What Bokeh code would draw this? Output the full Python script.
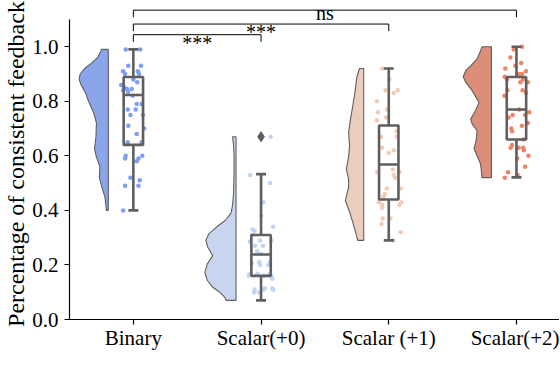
from bokeh.plotting import figure
from bokeh.models import Range1d, FixedTicker, ColumnDataSource, PrintfTickFormatter
from bokeh.embed import file_html
from bokeh.resources import INLINE
from bokeh.core.properties import value

# ---------------- data ----------------
categories = ["Binary", "Scalar(+0)", "Scalar (+1)", "Scalar(+2)"]
y_axis_title = "Percentage of consistent feedback"
y_ticks = [0.0, 0.2, 0.4, 0.6, 0.8, 1.0]

point_colors = ["#7b9ff9", "#c0d4f5", "#f2cbb7", "#ee8468"]
violin_colors = ["#8aa5e9", "#c7d6ee", "#ebcdbe", "#dd8e79"]

# jittered observations (value, horizontal jitter in category units)
binary_vals = [0.99, 0.99, 0.93, 0.93, 0.91, 0.90, 0.91, 0.90, 0.88, 0.86, 0.845, 0.84, 0.835, 0.845,
               0.82, 0.79, 0.79, 0.77, 0.77, 0.75, 0.75, 0.71, 0.70, 0.68, 0.65, 0.65, 0.60, 0.59,
               0.60, 0.58, 0.59, 0.52, 0.51, 0.49, 0.49, 0.40, 0.87, 0.85]
binary_jit = [-0.06, 0.054, -0.04, 0.06, -0.08, -0.065, 0.036, 0.044, 0.0, -0.095, -0.05, -0.08, -0.04,
              -0.013, -0.005, 0.026, 0.065, -0.044, 0.018, -0.023, 0.075, -0.04, 0.085, 0.026, -0.044,
              0.065, -0.06, -0.065, 0.07, 0.026, 0.04, -0.023, 0.05, -0.065, 0.04, -0.08, 0.03, -0.07]

s0_vals = [0.67, 0.53, 0.50, 0.43, 0.38, 0.34, 0.33, 0.325, 0.31, 0.285, 0.29, 0.29, 0.27, 0.27, 0.25,
           0.24, 0.205, 0.21, 0.20, 0.21, 0.20, 0.165, 0.168, 0.16, 0.16, 0.11, 0.115, 0.115, 0.10,
           0.099, 0.16, 0.149, 0.165, 0.109, 0.109]
s0_jit = [0.075, -0.085, 0.07, 0.018, 0.0, 0.095, -0.067, -0.05, -0.067, -0.088, -0.008, 0.08, -0.047,
          0.015, -0.03, 0.0, -0.072, -0.015, -0.008, 0.07, 0.057, -0.093, -0.028, 0.08, 0.023, -0.05,
          0.03, 0.088, -0.054, -0.015, -0.095, 0.088, 0.062, 0.018, 0.095]

s1_vals = [0.92, 0.88, 0.84, 0.83, 0.84, 0.80, 0.76, 0.77, 0.73, 0.74, 0.69, 0.67, 0.67, 0.63, 0.62,
           0.61, 0.55, 0.54, 0.54, 0.52, 0.53, 0.48, 0.48, 0.46, 0.45, 0.43, 0.42, 0.41, 0.43, 0.42,
           0.37, 0.37, 0.35, 0.32, 0.29]
s1_jit = [-0.052, 0.005, -0.026, 0.039, 0.07, -0.093, -0.085, -0.013, -0.093, -0.02, 0.062, -0.06,
          0.062, -0.052, 0.039, 0.0, 0.031, -0.09, 0.083, 0.05, 0.039, -0.015, 0.093, -0.031, -0.041,
          -0.078, -0.052, -0.052, 0.098, 0.083, -0.047, 0.013, -0.057, 0.093, 0.036]

s2_vals = [1.0, 0.99, 0.96, 0.94, 0.92, 0.93, 0.91, 0.90, 0.90, 0.89, 0.88, 0.88, 0.87, 0.87, 0.84,
           0.83, 0.84, 0.82, 0.77, 0.76, 0.75, 0.75, 0.74, 0.72, 0.71, 0.70, 0.69, 0.66, 0.64, 0.63,
           0.63, 0.63, 0.62, 0.60, 0.59, 0.56, 0.54, 0.53, 0.52]
s2_jit = [0.043, -0.022, -0.048, 0.037, -0.087, -0.009, 0.074, 0.017, 0.043, -0.092, -0.074, 0.05,
          0.03, 0.089, 0.048, 0.074, -0.071, -0.094, 0.022, 0.1, 0.068, -0.03, -0.061, 0.089, 0.043,
          -0.04, -0.035, 0.056, -0.035, -0.045, 0.053, 0.017, 0.058, 0.094, 0.006, 0.068, -0.066,
          0.009, -0.092]

# box-plot statistics
box_lo = [0.40, 0.07, 0.29, 0.521]
box_q1 = [0.64, 0.16, 0.44, 0.66]
box_med = [0.823, 0.238, 0.568, 0.77]
box_q3 = [0.889, 0.31, 0.711, 0.889]
box_hi = [0.99, 0.533, 0.92, 1.0]
outlier_cat = [1]
outlier_val = [0.67]

# half-violin density profiles (level, density width)
vio_binary_y = [0.99, 0.98, 0.96, 0.94, 0.92, 0.90, 0.88, 0.86, 0.83, 0.80, 0.76, 0.72, 0.67, 0.625,
                0.595, 0.56, 0.52, 0.485, 0.45, 0.42, 0.40]
vio_binary_d = [7, 8, 11, 17, 24, 28.5, 29.5, 27.5, 23, 20, 15, 12, 12.5, 14, 12, 8.5, 9, 6.5, 3.5, 2.5, 2]
vio_s0_y = [0.67, 0.64, 0.60, 0.54, 0.46, 0.42, 0.39, 0.363, 0.338, 0.314, 0.29, 0.265, 0.234, 0.204,
            0.173, 0.143, 0.118, 0.10, 0.082, 0.07]
vio_s0_d = [3.5, 2.5, 2, 2, 2.5, 3.5, 5, 11, 20, 27.5, 30.5, 28.5, 23.5, 29, 31.5, 29, 23.5, 16.5, 11.5, 10]
vio_s1_y = [0.92, 0.888, 0.839, 0.784, 0.729, 0.686, 0.637, 0.595, 0.552, 0.515, 0.485, 0.436, 0.387,
            0.338, 0.29]
vio_s1_d = [4.3, 7, 8.6, 11, 13.6, 15.3, 14.3, 15.3, 17.6, 15.3, 15.3, 18.6, 13.6, 9.6, 6]
vio_s2_y = [1.0, 0.985, 0.955, 0.93, 0.912, 0.89, 0.87, 0.839, 0.796, 0.766, 0.735, 0.717, 0.692, 0.656,
            0.625, 0.60, 0.57, 0.54, 0.52]
vio_s2_d = [9.5, 11, 14.5, 21, 26, 28.5, 26, 19.5, 12.5, 16, 21, 19.5, 14.5, 15.5, 17.5, 14.5, 11, 10, 9.5]

# significance annotations: (from, to, label)
sig_from = [0, 0, 0]
sig_to = [3, 2, 1]
sig_text = ["ns", "***", "***"]
sig_level = [1.134, 1.083, 1.044]
sig_text_y = [1.122, 1.054, 1.014]

# ---------------- styling constants ----------------
SERIF = "Liberation Serif"
GRAY = "#5f5f5f"
VSCALE = 1.0 / 129.0
V_OFFSET = 0.196
BOX_HALF = 0.076
CAP_HALF = 0.039
TIP = 0.026

p = figure(width=559, height=378, x_range=Range1d(-0.5, 3.337), y_range=Range1d(0, 1.14),
           output_backend="svg", toolbar_location=None,
           min_border_left=64, min_border_right=0, min_border_top=8, min_border_bottom=59)
p.outline_line_color = None
p.grid.visible = False
p.background_fill_color = "white"
p.border_fill_color = "white"

vals_all = [binary_vals, s0_vals, s1_vals, s2_vals]
jit_all = [binary_jit, s0_jit, s1_jit, s2_jit]
vio_y_all = [vio_binary_y, vio_s0_y, vio_s1_y, vio_s2_y]
vio_d_all = [vio_binary_d, vio_s0_d, vio_s1_d, vio_s2_d]

# half violins
for i in range(len(categories)):
    edge = i - V_OFFSET
    ys = vio_y_all[i]
    ds = vio_d_all[i]
    px = [edge] + [edge - d * VSCALE for d in ds] + [edge]
    py = [ys[0]] + list(ys) + [ys[-1]]
    p.patch(px, py, fill_color=violin_colors[i], line_color=GRAY, line_width=1.1)

# jittered points
for i in range(len(categories)):
    xs = [i + j for j in jit_all[i]]
    p.scatter(xs, vals_all[i], size=4.5, fill_color=point_colors[i], line_color=None)

# boxes
cx = list(range(len(categories)))
p.quad(left=[c - BOX_HALF for c in cx], right=[c + BOX_HALF for c in cx], bottom=box_q1, top=box_q3,
       fill_color=None, line_color=GRAY, line_width=2.6)
p.segment(x0=[c - BOX_HALF for c in cx], x1=[c + BOX_HALF for c in cx], y0=box_med, y1=box_med,
          line_color=GRAY, line_width=2.6)
p.segment(x0=cx, x1=cx, y0=box_q3, y1=box_hi, line_color=GRAY, line_width=2.6)
p.segment(x0=cx, x1=cx, y0=box_lo, y1=box_q1, line_color=GRAY, line_width=2.6)
p.segment(x0=[c - CAP_HALF for c in cx], x1=[c + CAP_HALF for c in cx], y0=box_hi, y1=box_hi,
          line_color=GRAY, line_width=2.6)
p.segment(x0=[c - CAP_HALF for c in cx], x1=[c + CAP_HALF for c in cx], y0=box_lo, y1=box_lo,
          line_color=GRAY, line_width=2.6)
p.scatter(outlier_cat, outlier_val, marker="diamond", size=10, color=GRAY)

# significance brackets
bx, by = [], []
for a, b, lv in zip(sig_from, sig_to, sig_level):
    bx.append([a, a, b, b])
    by.append([lv - TIP, lv, lv, lv - TIP])
p.multi_line(bx, by, line_color="black", line_width=1)
tsrc = ColumnDataSource(dict(x=[(a + b) / 2 for a, b in zip(sig_from, sig_to)], y=sig_text_y, t=sig_text))
p.text(x="x", y="y", text="t", source=tsrc, text_font=value(SERIF), text_font_size="20px",
       text_align="center", text_baseline="alphabetic", text_color="black")

# axes
p.xaxis.ticker = FixedTicker(ticks=cx)
p.xaxis.major_label_overrides = {i: c for i, c in enumerate(categories)}
p.yaxis.ticker = FixedTicker(ticks=y_ticks)
p.yaxis.formatter = PrintfTickFormatter(format="%.1f")
p.yaxis.bounds = (0, 1.1)
p.yaxis.axis_label = y_axis_title

for ax in (p.xaxis[0], p.yaxis[0]):
    ax.axis_line_color = "black"
    ax.axis_line_width = 1.2
    ax.major_tick_line_color = "black"
    ax.major_tick_line_width = 1.2
    ax.major_tick_in = 0
    ax.major_tick_out = 5
    ax.minor_tick_line_color = None
    ax.major_label_text_font = SERIF
    ax.major_label_text_font_size = "21px"
    ax.major_label_text_color = "black"
p.xaxis.major_label_standoff = 1
p.yaxis.major_label_standoff = 6

p.yaxis.axis_label_text_font = SERIF
p.yaxis.axis_label_text_font_size = "24px"
p.yaxis.axis_label_text_font_style = "normal"
p.yaxis.axis_label_text_color = "black"
p.yaxis.axis_label_standoff = 0

open("out.html", "w").write(file_html(p, INLINE))
